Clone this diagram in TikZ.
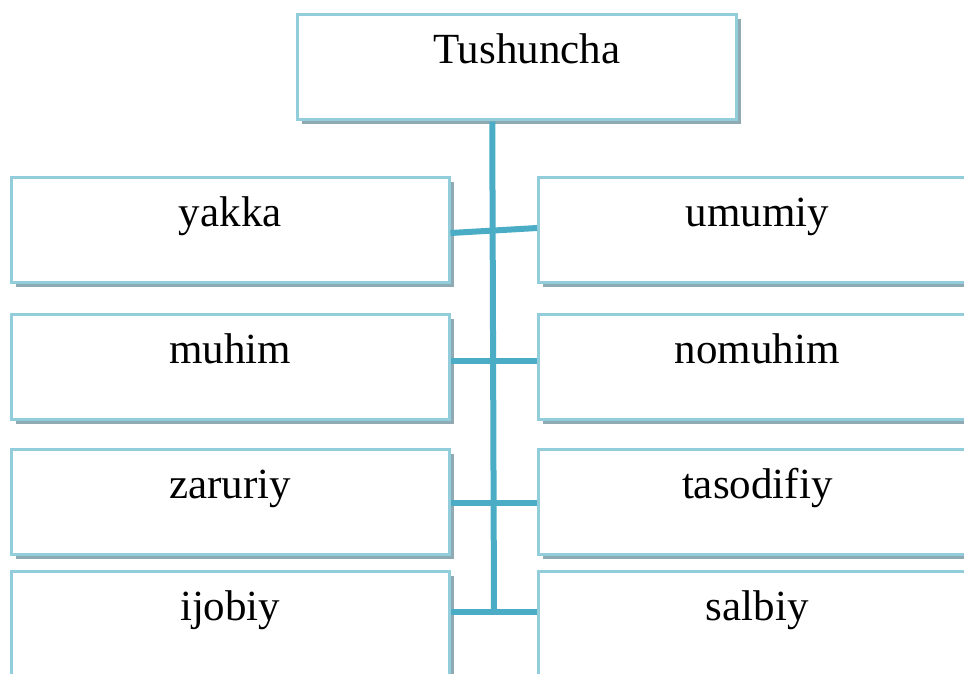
\documentclass[tikz,border=0pt]{standalone}
\usepackage{fontspec}
\setmainfont{Liberation Serif}
\usetikzlibrary{shadows,calc}
\definecolor{boxborder}{RGB}{146,205,220}
\definecolor{shadowc}{RGB}{143,170,178}
\definecolor{linkc}{RGB}{75,172,198}
\tikzset{
  conceptbox/.style={draw=boxborder, line width=2.5pt, fill=white,
    minimum width=438pt, text width=430pt, align=center,
    inner xsep=4pt, inner ysep=16pt, text height=33pt, text depth=40pt,
    font=\fontsize{43}{52}\selectfont, anchor=north west,
    drop shadow={shadow xshift=4.5pt, shadow yshift=-4.5pt, fill=shadowc, opacity=1}},
  link/.style={draw=linkc, line width=6pt}
}
\begin{document}
\begin{tikzpicture}[x=1pt,y=-1pt]
\useasboundingbox (0,0) rectangle (964,673);
\node[conceptbox, minimum width=439pt] (top) at (296,13) {\hspace*{20pt}Tushuncha};
\node[conceptbox] (yakka) at (10,176) {yakka};
\node[conceptbox] (umumiy) at (537,176) {umumiy};
\node[conceptbox] (muhim) at (10,313) {muhim};
\node[conceptbox] (nomuhim) at (537,313) {nomuhim};
\node[conceptbox] (zaruriy) at (10,448) {zaruriy};
\node[conceptbox] (tasodifiy) at (537,448) {tasodifiy};
\node[conceptbox] (ijobiy) at (10,570) {ijobiy};
\node[conceptbox] (salbiy) at (537,570) {salbiy};
\coordinate (trunk) at (494,612);
\draw[link] ($(top.south)+(-24.5,1)$) -- (trunk);
\draw[link] ($(yakka.north east)+(0,57)$) -- ($(umumiy.north west)+(0,52)$);
\draw[link] ($(muhim.north east)+(0,48)$) -- ($(nomuhim.north west)+(0,48)$);
\draw[link] ($(zaruriy.north east)+(0,55)$) -- ($(tasodifiy.north west)+(0,55)$);
\draw[link] ($(ijobiy.north east)+(0,42)$) -- ($(salbiy.north west)+(0,42)$);
\end{tikzpicture}
\end{document}
